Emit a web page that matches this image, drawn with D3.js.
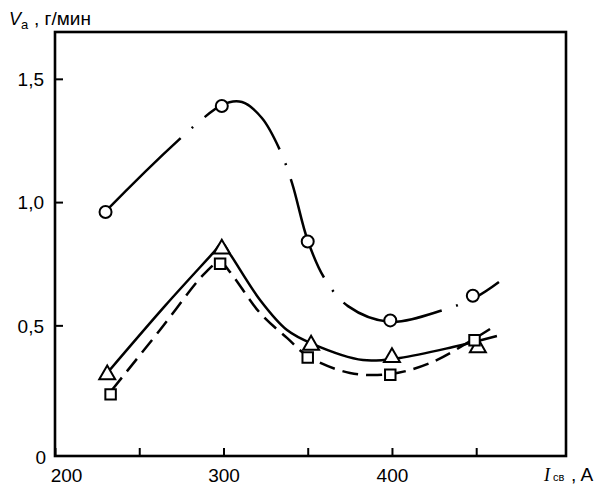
<!DOCTYPE html>
<html><head><meta charset="utf-8">
<script src="https://cdn.jsdelivr.net/npm/d3@7"></script>
<style>html,body{margin:0;padding:0;background:#fff;}svg{display:block;}</style>
</head><body>
<svg id="chart" width="603" height="486"></svg>
<script>
// ---- data ----
const xTicks = [200, 250, 300, 350, 400, 450];
const xTickLabels = {200: "200", 300: "300", 400: "400"};
const yTicks = [0.5, 1.0, 1.5];

// measured points (markers)
const circleX = [230, 299, 350, 399, 448];
const circleV = [0.96, 1.39, 0.84, 0.52, 0.62];
const triangleX = [231, 299, 352, 400, 451];
const triangleV = [0.30, 0.81, 0.42, 0.37, 0.41];
const squareX = [233, 298, 350, 399, 449];
const squareV = [0.22, 0.75, 0.37, 0.30, 0.44];

// fitted curves drawn through/near the points
const circleCurveX = [230.3, 299.1, 311, 322.8, 333.5, 340.7, 350.1, 360.2, 373.9, 398.2, 430.3, 449.9, 463.5];
const circleCurveV = [0.964, 1.394, 1.406, 1.341, 1.211, 1.077, 0.842, 0.688, 0.578, 0.515, 0.562, 0.615, 0.676];
const triangleCurveX = [231.5, 265.3, 294.4, 299.1, 303.9, 321.7, 337.7, 353.1, 382.8, 404.7, 436.2, 462.3];
const triangleCurveV = [0.311, 0.579, 0.798, 0.834, 0.789, 0.603, 0.481, 0.424, 0.359, 0.368, 0.412, 0.457];
const squareCurveX = [233.8, 262.3, 289.0, 297.9, 303.9, 321.7, 337.7, 350.7, 375.1, 399.4, 422.6, 448.7, 458.2];
const squareCurveV = [0.238, 0.481, 0.712, 0.757, 0.716, 0.550, 0.449, 0.372, 0.307, 0.303, 0.347, 0.445, 0.485];

// ---- drawing ----
const svg = d3.select("#chart");
const L = 55, R = 566, T = 32, B = 456;
const x = d3.scaleLinear().domain([200, 503.3]).range([L, R]);
const y = d3.scaleLinear().domain([-0.03, 1.69]).range([B, T]);
const sans = "'Liberation Sans', Arial, Helvetica, sans-serif";

const zip = (xs, vs) => xs.map((d, i) => [d, vs[i]]);
const line = d3.line().x(d => x(d[0])).y(d => y(d[1])).curve(d3.curveCatmullRom.alpha(0.5));

// axes (inside ticks)
const xAxis = d3.axisBottom(x).tickValues(xTicks).tickSizeInner(-8).tickSizeOuter(0)
  .tickFormat(d => xTickLabels[d] || "");
const gx = svg.append("g").attr("transform", `translate(0,${B})`).call(xAxis);
gx.select(".domain").remove();
gx.selectAll("line").attr("stroke", "#000").attr("stroke-width", 2);
gx.selectAll("text").attr("font-family", sans).attr("font-size", 19).attr("fill", "#000")
  .attr("y", 0).attr("dy", "25.5")
  .attr("dx", d => d === 200 ? 11 : 0);

const yAxis = d3.axisLeft(y).tickValues(yTicks).tickSizeInner(-8).tickSizeOuter(0)
  .tickFormat(d => d3.format(".1f")(d).replace(".", ","));
const gy = svg.append("g").attr("transform", `translate(${L},0)`).call(yAxis);
gy.select(".domain").remove();
gy.selectAll("line").attr("stroke", "#000").attr("stroke-width", 2);
gy.selectAll("text").attr("font-family", sans).attr("font-size", 19).attr("fill", "#000")
  .attr("x", -11).attr("dy", "0.35em");

// "0" at the corner
svg.append("text").attr("x", 46).attr("y", B + 8).attr("text-anchor", "end")
  .attr("font-family", sans).attr("font-size", 19).text("0");

// frame
svg.append("rect").attr("x", L).attr("y", T).attr("width", R - L).attr("height", B - T)
  .attr("fill", "none").attr("stroke", "#000").attr("stroke-width", 2.6);

// curves
svg.append("path").attr("d", line(zip(circleCurveX, circleCurveV)))
  .attr("fill", "none").attr("stroke", "#000").attr("stroke-width", 2.5)
  .attr("stroke-dasharray", "104 15 2 15");
svg.append("path").attr("d", line(zip(triangleCurveX, triangleCurveV)))
  .attr("fill", "none").attr("stroke", "#000").attr("stroke-width", 2.5);
svg.append("path").attr("d", line(zip(squareCurveX, squareCurveV)))
  .attr("fill", "none").attr("stroke", "#000").attr("stroke-width", 2.5)
  .attr("stroke-dasharray", "16 8");

// markers
svg.append("g").selectAll("circle").data(zip(circleX, circleV)).join("circle")
  .attr("cx", d => x(d[0])).attr("cy", d => y(d[1])).attr("r", 6)
  .attr("fill", "#fff").attr("stroke", "#000").attr("stroke-width", 2);
svg.append("g").selectAll("path").data(zip(triangleX, triangleV)).join("path")
  .attr("d", d3.symbol(d3.symbolTriangle, 110)())
  .attr("transform", d => `translate(${x(d[0])},${y(d[1])})`)
  .attr("fill", "#fff").attr("stroke", "#000").attr("stroke-width", 2);
svg.append("g").selectAll("path").data(zip(squareX, squareV)).join("path")
  .attr("d", d3.symbol(d3.symbolSquare, 110)())
  .attr("transform", d => `translate(${x(d[0])},${y(d[1])})`)
  .attr("fill", "#fff").attr("stroke", "#000").attr("stroke-width", 2);

// axis titles
svg.append("text").attr("x", 9).attr("y", 25).attr("font-family", sans)
  .attr("font-size", 18).attr("font-style", "italic").text("V");
svg.append("text").attr("x", 21).attr("y", 29).attr("font-family", sans)
  .attr("font-size", 13).text("а");
svg.append("text").attr("x", 34).attr("y", 25).attr("font-family", sans)
  .attr("font-size", 19).text(", г/мин");

svg.append("text").attr("x", 544).attr("y", 481).attr("font-family", "'Liberation Serif', 'Times New Roman', serif")
  .attr("font-size", 18).attr("font-style", "italic").text("I");
svg.append("text").attr("x", 553).attr("y", 481).attr("font-family", sans)
  .attr("font-size", 11).text("св");
svg.append("text").attr("x", 571).attr("y", 481).attr("font-family", sans)
  .attr("font-size", 19).text(", A");
</script>
</body></html>
